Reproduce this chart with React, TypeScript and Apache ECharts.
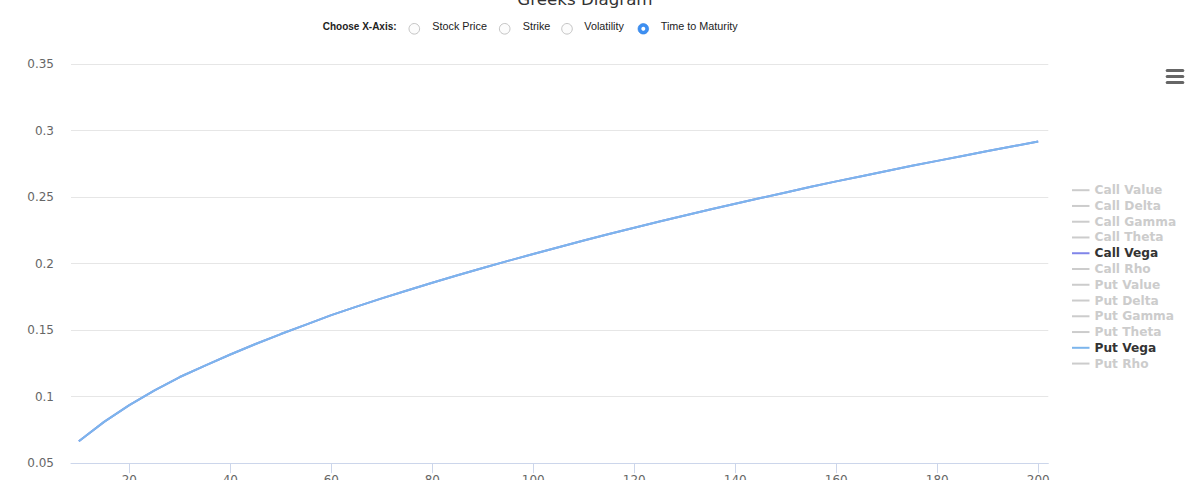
import React, { useEffect, useRef } from "react";
import * as echarts from "echarts";

const seriesNames = [
  "Call Value", "Call Delta", "Call Gamma", "Call Theta", "Call Vega", "Call Rho",
  "Put Value", "Put Delta", "Put Gamma", "Put Theta", "Put Vega", "Put Rho",
];
const seriesColors = [
  "#7cb5ec", "#434348", "#90ed7d", "#f7a35c", "#8085e9", "#f15c80",
  "#e4d354", "#2b908f", "#f45b5b", "#91e8e1", "#7cb5ec", "#434348",
];
const visibleSeries = ["Call Vega", "Put Vega"];

const maturity = [
  10, 15, 20, 25, 30, 35, 40, 45, 50, 55, 60, 65, 70, 75, 80, 85, 90, 95, 100,
  105, 110, 115, 120, 125, 130, 135, 140, 145, 150, 155, 160, 165, 170, 175,
  180, 185, 190, 195, 200,
];
const vega = [
  0.0665, 0.0811, 0.0937, 0.1048, 0.1148, 0.1234, 0.1317, 0.1396, 0.1471,
  0.1542, 0.1613, 0.1677, 0.1739, 0.1799, 0.1857, 0.1913, 0.1968, 0.2021,
  0.2073, 0.2124, 0.2174, 0.2223, 0.2270, 0.2317, 0.2362, 0.2407, 0.2451,
  0.2494, 0.2536, 0.2578, 0.2619, 0.2658, 0.2697, 0.2736, 0.2773, 0.2810,
  0.2847, 0.2883, 0.2919,
];
const xTicks = [20, 40, 60, 80, 100, 120, 140, 160, 180, 200];
const radioLabels = ["Stock Price", "Strike", "Volatility", "Time to Maturity"];
const selectedRadio = "Time to Maturity";

export default function App() {
  const ref = useRef<HTMLDivElement>(null);
  useEffect(() => {
    if (!ref.current) return;
    const chart = echarts.init(ref.current, undefined, { renderer: "svg" });
    const font = "DejaVu Sans";
    const sans = "Liberation Sans";

    const selected: Record<string, boolean> = {};
    seriesNames.forEach((n) => (selected[n] = visibleSeries.includes(n)));

    const series = seriesNames.map((name, i) => ({
      name,
      type: "line",
      data: visibleSeries.includes(name) ? maturity.map((t, j) => [t, vega[j]]) : [],
      showSymbol: false,
      symbol: "none",
      lineStyle: { width: 2, color: seriesColors[i] },
      itemStyle: { color: seriesColors[i] },
      z: 2 + i,
    }));

    const radioX = [414.3, 504.7, 567, 643.3];
    const labelX = [432.3, 522.7, 584.3, 660.7];
    const radioGraphics: any[] = [];
    radioLabels.forEach((lab, i) => {
      const sel = lab === selectedRadio;
      radioGraphics.push({
        type: "circle",
        shape: { cx: radioX[i], cy: 28.8, r: 5.3 },
        style: sel
          ? { fill: "#3d8ff2", stroke: "#2f7fe0", lineWidth: 0.6 }
          : { fill: "#fcfcfc", stroke: "#b5b5b5", lineWidth: 0.8 },
        silent: true,
      });
      if (sel) {
        radioGraphics.push({
          type: "circle",
          shape: { cx: radioX[i], cy: 28.8, r: 2 },
          style: { fill: "#ffffff" },
          silent: true,
        });
      }
      radioGraphics.push({
        type: "text",
        x: labelX[i],
        y: 25.5,
        style: {
          text: lab,
          fill: "#222",
          font: `10.8px "${sans}"`,
          verticalAlign: "middle",
          align: "left",
        },
        silent: true,
      });
    });

    chart.setOption({
      animation: false,
      backgroundColor: "#ffffff",
      grid: {
        left: 71,
        right: 151.7,
        top: 64.2,
        bottom: 16.8,
        containLabel: false,
        outerBoundsMode: "none",
      },
      legend: {
        orient: "vertical",
        left: 1072,
        top: 183.2,
        padding: 0,
        itemGap: 1.76,
        itemWidth: 17.5,
        itemHeight: 2,
        icon: "rect",
        selected,
        inactiveColor: "#cccccc",
        data: seriesNames,
        textStyle: {
          fontFamily: font,
          fontWeight: "bold",
          fontSize: 12.2,
          lineHeight: 14,
          color: "#333333",
        },
      },
      xAxis: {
        type: "value",
        min: 8.45,
        max: 202,
        axisLine: { show: true, lineStyle: { color: "#ccd6eb", width: 1 } },
        axisTick: {
          show: true,
          length: 10,
          customValues: xTicks,
          lineStyle: { color: "#ccd6eb" },
        },
        axisLabel: {
          customValues: xTicks,
          margin: 11,
          color: "#666666",
          fontFamily: font,
          fontSize: 12,
        },
        splitLine: { show: false },
      },
      yAxis: {
        type: "value",
        min: 0.05,
        max: 0.35,
        interval: 0.05,
        axisLine: { show: false },
        axisTick: { show: false },
        axisLabel: {
          margin: 17,
          color: "#666666",
          fontFamily: font,
          fontSize: 12,
          formatter: (v: number) => String(+v.toFixed(2)),
        },
        splitLine: { lineStyle: { color: "#e6e6e6", width: 1 } },
      },
      series,
      graphic: [
        {
          type: "text",
          x: 585,
          y: 7,
          style: {
            text: "Greeks Diagram",
            fill: "#333333",
            font: `16.7px "${font}"`,
            align: "center",
            verticalAlign: "bottom",
          },
          silent: true,
        },
        {
          type: "text",
          x: 322.7,
          y: 26,
          style: {
            text: "Choose X-Axis:",
            fill: "#222",
            font: `bold 10px "${sans}"`,
            align: "left",
            verticalAlign: "middle",
          },
          silent: true,
        },
        ...radioGraphics,
        ...[70.5, 76.5, 82.5].map((cy) => ({
          type: "rect",
          shape: { x: 1165.7, y: cy - 1.5, width: 18.6, height: 3, r: 1.5 },
          style: { fill: "#666666" },
          silent: true,
        })),
      ],
    });
    return () => chart.dispose();
  }, []);
  return (
    <div
      ref={ref}
      style={{ position: "fixed", left: 0, top: 0, width: 1200, height: 480 }}
    />
  );
}
